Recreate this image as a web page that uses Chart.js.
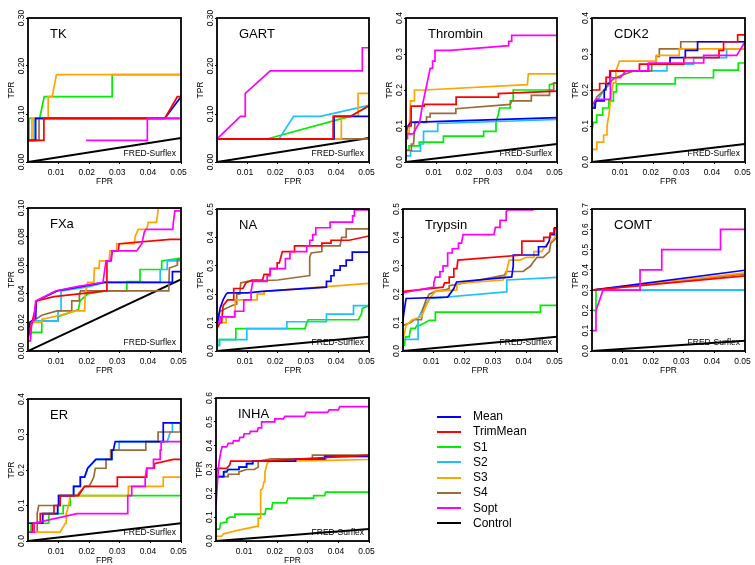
<!DOCTYPE html>
<html>
<head>
<meta charset="utf-8">
<title>FRED-Surflex ROC panels</title>
<script src="https://cdn.jsdelivr.net/npm/chart.js@4.4.1/dist/chart.umd.min.js"></script>
<style>
  body { margin: 0; background: #fff; width: 755px; height: 565px; position: relative; overflow: hidden;
         font-family: "Liberation Sans", Arial, sans-serif; }
  canvas { position: absolute; }
  .legend-line { position: absolute; width: 24px; height: 2px; }
  .legend-text { position: absolute; font-size: 12px; line-height: 14px; color: #000; }
</style>
</head>
<body>
<script>
// Series shared by every panel
const seriesNames = ['Mean', 'TrimMean', 'S1', 'S2', 'S3', 'S4', 'Sopt', 'Control'];
const seriesColors = ['#0000ff', '#ff0000', '#00ee00', '#1ec0ff', '#ffa500', '#9c6b3a', '#ff00ff', '#000000'];
const drawOrder = [2, 1, 6, 5, 3, 4, 0, 7]; // lower = drawn on top

const xTickLabels = ['0.01', '0.02', '0.03', '0.04', '0.05'];
const controlLine = [[0, 0], [0.05, 0.05]];

// TK
const tkYLabels = ['0.00', '0.10', '0.20', '0.30'];
const tkMean = [[0,.045],[.0025,.045],[.0025,.091],[.0447,.091],[.05,.136]];
const tkTrimMean = [[0,.045],[.0052,.045],[.0052,.091],[.0447,.091],[.0488,.136],[.05,.136]];
const tkS1 = [[0,.045],[.0003,.045],[.0003,.091],[.0038,.091],[.0053,.136],[.0275,.136],[.0275,.182],[.05,.182]];
const tkS2 = [[0,.045],[.002,.045],[.002,.091],[.05,.091]];
const tkS3 = [[0,.045],[.0013,.045],[.0013,.091],[.0066,.091],[.0066,.136],[.0079,.136],[.0093,.182],[.05,.182]];
const tkS4 = [[0,.045],[.0036,.045],[.0036,.091],[.05,.091]];
const tkSopt = [[.019,.045],[.039,.045],[.039,.091],[.05,.091]];

// GART
const gartYLabels = ['0.00', '0.10', '0.20', '0.30'];
const gartMean = [[0,.048],[.0385,.048],[.0385,.095],[.05,.095]];
const gartTrimMean = [[0,.048],[.0382,.048],[.0382,.095],[.0439,.095],[.05,.117]];
const gartS1 = [[0,.048],[.0164,.048],[.0437,.095],[.05,.117]];
const gartS2 = [[0,.048],[.0204,.048],[.0252,.095],[.034,.095],[.05,.118]];
const gartS3 = [[0,.048],[.0409,.048],[.0409,.095],[.0464,.095],[.0464,.143],[.05,.143]];
const gartS4 = [[0,.048],[.05,.048]];
const gartSopt = [[0,.048],[.0077,.095],[.0093,.095],[.0093,.143],[.0175,.19],[.0478,.19],[.0478,.238],[.05,.238]];

// Thrombin
const thrYLabels = ['0.0', '0.1', '0.2', '0.3', '0.4'];
const thrMean = [[0,.09],[.0015,.11],[.05,.123]];
const thrTrimMean = [[0,.07],[.0005,.1],[.0017,.1],[.0017,.155],[.006,.155],[.006,.16],[.0166,.16],[.0166,.18],[.0306,.18],[.0306,.19],[.05,.197]];
const thrS1 = [[0,.033],[.001,.033],[.001,.045],[.0044,.045],[.0044,.055],[.0124,.055],[.0124,.072],[.0257,.072],[.0257,.085],[.0295,.085],[.0298,.11],[.0305,.13],[.031,.15],[.0345,.15],[.0345,.17],[.0355,.17],[.0355,.2],[.0475,.2],[.0475,.215],[.05,.22]];
const thrS2 = [[0,.017],[.0015,.017],[.0015,.03],[.0048,.03],[.0048,.05],[.0058,.05],[.0058,.085],[.0105,.085],[.0105,.107],[.05,.118]];
const thrS3 = [[0,.08],[.001,.08],[.0015,.17],[.0028,.17],[.0028,.2],[.006,.2],[.0402,.215],[.0405,.245],[.05,.245]];
const thrS4 = [[0,.032],[.0018,.032],[.0018,.05],[.0025,.05],[.003,.11],[.0068,.11],[.0068,.125],[.008,.125],[.008,.135],[.0165,.135],[.0165,.148],[.0345,.16],[.035,.17],[.0415,.17],[.0415,.185],[.0475,.185],[.0475,.2],[.0489,.2],[.0489,.22],[.05,.22]];
const thrSopt = [[0,.065],[.0005,.065],[.0005,.078],[.0024,.078],[.0035,.096],[.0045,.11],[.0055,.16],[.0065,.2],[.007,.22],[.0075,.24],[.008,.26],[.0088,.26],[.0088,.28],[.0096,.28],[.0096,.31],[.0146,.31],[.034,.323],[.034,.335],[.035,.335],[.035,.352],[.05,.352]];

// CDK2
const cdkYLabels = ['0.0', '0.1', '0.2', '0.3', '0.4'];
const cdkMean = [[0,.15],[.001,.15],[.001,.17],[.004,.17],[.004,.2],[.0045,.2],[.0045,.218],[.006,.218],[.006,.253],[.0184,.253],[.0184,.272],[.0255,.272],[.0255,.29],[.0305,.29],[.0305,.31],[.0345,.31],[.0345,.334],[.05,.334]];
const cdkTrimMean = [[0,.2],[.0025,.2],[.0025,.218],[.0046,.218],[.0046,.235],[.0058,.235],[.0058,.253],[.0155,.253],[.0155,.272],[.03,.272],[.03,.29],[.0415,.29],[.0415,.31],[.043,.31],[.043,.334],[.0476,.334],[.0476,.353],[.05,.353]];
const cdkS1 = [[0,.09],[.0005,.11],[.0015,.11],[.0015,.13],[.0035,.13],[.0035,.15],[.0055,.15],[.0055,.17],[.007,.17],[.007,.195],[.008,.195],[.008,.217],[.0272,.217],[.0272,.234],[.0397,.234],[.0397,.255],[.0478,.255],[.0478,.275],[.05,.275]];
const cdkS2 = [[0,.15],[.004,.2],[.006,.218],[.006,.253],[.0245,.253],[.0245,.272],[.0332,.272],[.0332,.29],[.044,.29],[.044,.314],[.05,.314]];
const cdkS3 = [[0,0],[0,.035],[.0016,.035],[.0016,.055],[.0038,.055],[.0038,.075],[.0049,.075],[.0049,.1],[.0055,.13],[.0062,.18],[.0065,.2],[.007,.22],[.0078,.22],[.0078,.253],[.009,.28],[.021,.28],[.021,.296],[.0285,.296],[.0285,.314],[.05,.314]];
const cdkS4 = [[0,.15],[.001,.15],[.0015,.18],[.004,.2],[.0055,.22],[.0076,.234],[.0136,.253],[.0195,.253],[.0195,.272],[.021,.272],[.021,.293],[.022,.293],[.022,.314],[.029,.314],[.029,.334],[.05,.334]];
const cdkSopt = [[0,.158],[.0013,.174],[.006,.174],[.006,.234],[.0093,.234],[.011,.253],[.0185,.253],[.0185,.275],[.0365,.275],[.0365,.296],[.0473,.296],[.05,.334]];

// FXa
const fxaYLabels = ['0.00', '0.02', '0.04', '0.06', '0.08', '0.10'];
const fxaMean = [[0,.01],[.0005,.02],[.0025,.023],[.0027,.035],[.0095,.042],[.025,.048],[.0472,.048],[.0472,.0555],[.05,.0555]];
const fxaTrimMean = [[0,.01],[.0008,.015],[.0022,.028],[.0027,.035],[.0085,.038],[.0255,.042],[.0258,.063],[.0272,.063],[.0275,.07],[.0295,.07],[.0298,.075],[.0465,.078],[.05,.078]];
const fxaS1 = [[0,.01],[.0015,.013],[.0045,.013],[.0045,.021],[.0098,.021],[.0098,.024],[.0165,.029],[.017,.035],[.0195,.04],[.025,.042],[.0323,.042],[.0323,.0486],[.0366,.0486],[.0366,.057],[.0437,.057],[.0437,.063],[.05,.065]];
const fxaS2 = [[0,.01],[.0008,.02],[.0015,.021],[.0098,.021],[.0098,.028],[.0108,.028],[.0108,.042],[.02,.045],[.025,.048],[.0432,.048],[.0432,.057],[.0455,.057],[.0455,.063],[.05,.063]];
const fxaS3 = [[0,.005],[.0005,.015],[.0015,.02],[.0045,.02],[.0045,.022],[.0105,.025],[.0155,.028],[.0185,.028],[.0187,.04],[.0195,.048],[.0215,.048],[.0217,.058],[.0232,.058],[.0234,.063],[.0265,.063],[.0268,.07],[.0288,.07],[.029,.075],[.0348,.075],[.035,.08],[.036,.085],[.0388,.085],[.0393,.09],[.042,.09],[.0426,.1],[.05,.1]];
const fxaS4 = [[0,.01],[.001,.02],[.0045,.025],[.0095,.028],[.0143,.028],[.0143,.035],[.0168,.035],[.0168,.04],[.0172,.042],[.046,.042],[.0462,.058],[.0488,.06],[.0488,.064],[.05,.064]];
const fxaSopt = [[0,.007],[.0008,.007],[.0012,.02],[.002,.022],[.0025,.035],[.009,.042],[.016,.045],[.0245,.048],[.0255,.063],[.027,.063],[.0275,.07],[.0355,.07],[.0372,.075],[.038,.083],[.0385,.085],[.0473,.085],[.0475,.09],[.048,.098],[.05,.098]];

// NA
const naYLabels = ['0.0', '0.1', '0.2', '0.3', '0.4', '0.5'];
const naMean = [[0,.09],[.001,.15],[.002,.18],[.003,.2],[.0035,.205],[.01,.205],[.015,.21],[.036,.225],[.036,.245],[.0375,.245],[.0375,.265],[.0385,.265],[.0385,.285],[.0405,.285],[.0405,.3],[.0425,.3],[.0425,.32],[.0445,.32],[.0445,.348],[.05,.348]];
const naTrimMean = [[0,.08],[.001,.1],[.0015,.1],[.002,.16],[.0035,.18],[.0055,.18],[.0055,.22],[.0085,.22],[.0095,.24],[.0115,.25],[.015,.25],[.0155,.27],[.0175,.27],[.0175,.29],[.0198,.29],[.0198,.31],[.0205,.31],[.0215,.35],[.0255,.35],[.0255,.37],[.0345,.37],[.0345,.38],[.0375,.38],[.0375,.39],[.0435,.39],[.05,.405]];
const naS1 = [[0,.02],[.0008,.02],[.0008,.04],[.0062,.04],[.0062,.079],[.029,.079],[.0295,.1],[.03,.11],[.0465,.11],[.0475,.13],[.0478,.15],[.05,.16]];
const naS2 = [[0,.02],[.0008,.02],[.0008,.04],[.0098,.04],[.0098,.079],[.023,.079],[.023,.103],[.036,.103],[.036,.13],[.0449,.13],[.0449,.16],[.05,.16]];
const naS3 = [[0,.09],[.001,.1],[.003,.1],[.003,.12],[.006,.12],[.006,.18],[.0132,.18],[.0132,.2],[.0155,.2],[.0155,.21],[.05,.238]];
const naS4 = [[0,.1],[.001,.14],[.005,.16],[.0065,.165],[.0065,.2],[.0075,.2],[.0078,.24],[.01,.245],[.02,.25],[.03,.265],[.0303,.265],[.0305,.33],[.031,.345],[.0345,.35],[.0345,.37],[.0405,.37],[.041,.4],[.0425,.4],[.0425,.43],[.05,.43]];
const naSopt = [[0,.1],[.001,.1],[.001,.12],[.0058,.12],[.0058,.14],[.0088,.14],[.0088,.18],[.0112,.18],[.0112,.21],[.0118,.245],[.0165,.245],[.0165,.265],[.0175,.265],[.0175,.29],[.0225,.29],[.0225,.325],[.024,.325],[.024,.35],[.0295,.35],[.0295,.37],[.0305,.37],[.0305,.39],[.0315,.39],[.0315,.41],[.0325,.41],[.0325,.434],[.0372,.434],[.0372,.454],[.0446,.454],[.0446,.476],[.0452,.476],[.0452,.497],[.05,.497]];

// Trypsin
const trpYLabels = ['0.0', '0.1', '0.2', '0.3', '0.4', '0.5'];
const trpMean = [[0,.11],[.0005,.15],[.001,.185],[.0145,.19],[.0165,.22],[.0174,.243],[.0353,.261],[.0358,.3],[.0358,.338],[.044,.338],[.044,.367],[.0465,.367],[.0475,.39],[.0478,.41],[.0492,.41],[.0492,.434],[.05,.434]];
const trpTrimMean = [[0,.2],[.0005,.21],[.013,.225],[.0135,.24],[.015,.24],[.015,.26],[.0165,.26],[.0165,.29],[.0175,.29],[.0178,.32],[.0386,.338],[.0386,.387],[.0457,.387],[.0457,.4],[.0478,.4],[.0478,.415],[.049,.415],[.049,.43],[.05,.43]];
const trpS1 = [[0,.02],[.0005,.02],[.0008,.05],[.002,.05],[.0025,.08],[.004,.08],[.0045,.09],[.0055,.09],[.0085,.108],[.0105,.108],[.0105,.137],[.0446,.137],[.0446,.161],[.05,.161]];
const trpS2 = [[0,.041],[.0049,.041],[.0049,.114],[.0065,.15],[.0087,.185],[.0335,.208],[.0337,.25],[.05,.259]];
const trpS3 = [[0,.04],[.001,.09],[.003,.11],[.006,.12],[.0075,.16],[.009,.19],[.0105,.21],[.0175,.215],[.0175,.235],[.0195,.24],[.0325,.25],[.0335,.27],[.034,.3],[.0345,.32],[.038,.32],[.04,.33],[.0425,.33],[.0425,.35],[.045,.35],[.0465,.375],[.0485,.39],[.05,.41]];
const trpS4 = [[0,.09],[.0025,.1],[.0035,.11],[.006,.11],[.0065,.15],[.0075,.18],[.0085,.2],[.0105,.21],[.0135,.215],[.015,.22],[.015,.23],[.02,.24],[.033,.267],[.0335,.28],[.039,.28],[.0415,.3],[.0422,.312],[.0435,.33],[.0455,.33],[.0475,.35],[.048,.38],[.05,.4]];
const trpSopt = [[0,.205],[.01,.225],[.01,.24],[.0105,.26],[.012,.26],[.012,.28],[.013,.28],[.013,.3],[.0145,.3],[.0145,.345],[.016,.345],[.016,.36],[.018,.36],[.018,.38],[.019,.38],[.0195,.41],[.0295,.41],[.03,.435],[.0315,.435],[.0315,.46],[.0335,.46],[.0335,.49],[.034,.497],[.0424,.497]];

// COMT
const comtYLabels = ['0.0', '0.1', '0.2', '0.3', '0.4', '0.5', '0.6', '0.7'];
const comtMean = [[0,.3],[.05,.398]];
const comtTrimMean = [[0,.3],[.05,.37]];
const comtS1 = [[0,.2],[.0013,.2],[.0013,.3],[.05,.3]];
const comtS2 = [[0,.3],[.05,.3]];
const comtS3 = [[0,.3],[.05,.385]];
const comtS4 = [[0,.3],[.05,.38]];
const comtSopt = [[0,.1],[.0013,.1],[.0013,.2],[.0036,.3],[.0157,.3],[.0157,.4],[.0228,.4],[.0228,.5],[.042,.5],[.042,.6],[.05,.6]];

// ER
const erYLabels = ['0.0', '0.1', '0.2', '0.3', '0.4'];
const erMean = [[0,.05],[.0048,.05],[.0048,.077],[.0097,.077],[.0097,.1],[.01,.1],[.01,.128],[.0149,.128],[.0149,.154],[.0171,.154],[.0171,.18],[.0185,.18],[.0195,.205],[.0222,.23],[.0274,.23],[.0274,.256],[.0279,.256],[.0285,.28],[.0442,.28],[.0442,.333],[.05,.333]];
const erTrimMean = [[0,.025],[.0015,.025],[.0015,.05],[.004,.05],[.004,.077],[.0085,.077],[.0085,.1],[.0105,.1],[.0105,.128],[.0165,.128],[.0185,.154],[.0292,.154],[.0292,.18],[.0388,.18],[.0388,.205],[.0413,.205],[.0413,.218],[.0475,.23],[.05,.23]];
const erS1 = [[0,.025],[.001,.025],[.001,.05],[.0068,.05],[.0068,.077],[.0115,.077],[.0115,.1],[.0138,.1],[.0138,.128],[.05,.128]];
const erS2 = [[0,.05],[.0048,.05],[.0048,.077],[.0097,.077],[.0097,.1],[.01,.1],[.01,.128],[.0149,.128],[.0149,.154],[.0171,.154],[.0171,.18],[.0185,.18],[.0195,.205],[.0222,.23],[.0274,.23],[.0274,.256],[.0298,.256],[.0298,.28],[.0455,.28],[.0465,.307],[.0472,.307],[.0472,.333],[.05,.333]];
const erS3 = [[0,.025],[.0105,.025],[.0122,.05],[.0125,.05],[.0125,.077],[.0133,.1],[.0138,.128],[.0328,.128],[.0328,.154],[.0442,.154],[.0442,.18],[.05,.18]];
const erS4 = [[0,.025],[.003,.025],[.003,.077],[.0035,.1],[.0105,.1],[.0105,.128],[.016,.128],[.0185,.154],[.02,.154],[.0215,.18],[.022,.205],[.0255,.205],[.0255,.23],[.027,.23],[.027,.256],[.0385,.256],[.0385,.28],[.0425,.28],[.0425,.307],[.0498,.307],[.0498,.333],[.05,.333]];
const erSopt = [[0,.025],[.002,.025],[.002,.05],[.016,.077],[.0326,.077],[.0326,.128],[.0339,.128],[.0339,.154],[.0383,.154],[.0383,.18],[.0388,.205],[.041,.205],[.041,.23],[.0432,.23],[.0432,.256],[.0435,.256],[.0435,.28],[.05,.28]];

// INHA
const inhaYLabels = ['0.0', '0.1', '0.2', '0.3', '0.4', '0.5', '0.6'];
const inhaMean = [[0,.27],[.0025,.27],[.0025,.29],[.0035,.29],[.004,.3],[.0075,.3],[.0075,.31],[.01,.31],[.01,.325],[.012,.325],[.012,.335],[.026,.335],[.026,.345],[.0355,.345],[.0355,.355],[.05,.355]];
const inhaTrimMean = [[0,.276],[.0004,.305],[.0035,.305],[.0045,.32],[.0048,.335],[.015,.335],[.05,.36]];
const inhaS1 = [[0,.05],[.0011,.05],[.0015,.075],[.0035,.08],[.0035,.093],[.0045,.1],[.0062,.1],[.0062,.113],[.016,.113],[.0163,.135],[.0182,.135],[.0185,.16],[.023,.16],[.0235,.18],[.0317,.18],[.0319,.19],[.0355,.19],[.0358,.205],[.0499,.205],[.05,.22]];
const inhaS2 = [[0,.27],[.0025,.27],[.0025,.29],[.004,.3],[.0075,.3],[.0075,.31],[.01,.31],[.01,.325],[.012,.325],[.012,.335],[.026,.335],[.026,.345],[.036,.345],[.036,.355],[.05,.355]];
const inhaS3 = [[0,.02],[.0018,.02],[.0025,.03],[.0078,.047],[.0133,.061],[.0138,.061],[.0138,.096],[.0146,.096],[.0146,.214],[.0152,.22],[.0157,.249],[.016,.29],[.0167,.325],[.0174,.335],[.033,.337],[.05,.342]];
const inhaS4 = [[0,.27],[.004,.27],[.004,.28],[.0075,.28],[.0075,.29],[.01,.3],[.0125,.3],[.0138,.31],[.0138,.335],[.018,.345],[.0315,.345],[.0315,.36],[.05,.36]];
const inhaSopt = [[0,.15],[.0005,.25],[.0008,.3],[.001,.33],[.0015,.37],[.002,.395],[.0035,.395],[.004,.41],[.0055,.41],[.0057,.42],[.0075,.42],[.0078,.435],[.009,.435],[.0092,.45],[.011,.45],[.0112,.46],[.0135,.46],[.0138,.475],[.0148,.475],[.0149,.5],[.019,.5],[.0192,.512],[.022,.512],[.0225,.523],[.029,.523],[.0295,.54],[.0365,.54],[.037,.55],[.04,.55],[.0404,.564],[.05,.564]];

// Panel layout: plot box [left, top, right, bottom] in page pixels
const panels = [
  { name: 'TK',       box: [28, 18, 181, 162],   yLabels: tkYLabels,   series: [tkMean, tkTrimMean, tkS1, tkS2, tkS3, tkS4, tkSopt, controlLine] },
  { name: 'GART',     box: [217, 18, 369, 162],  yLabels: gartYLabels, series: [gartMean, gartTrimMean, gartS1, gartS2, gartS3, gartS4, gartSopt, controlLine] },
  { name: 'Thrombin', box: [406, 18, 557, 162],  yLabels: thrYLabels,  series: [thrMean, thrTrimMean, thrS1, thrS2, thrS3, thrS4, thrSopt, controlLine] },
  { name: 'CDK2',     box: [592, 18, 745, 162],  yLabels: cdkYLabels,  series: [cdkMean, cdkTrimMean, cdkS1, cdkS2, cdkS3, cdkS4, cdkSopt, controlLine] },
  { name: 'FXa',      box: [28, 208, 181, 351],  yLabels: fxaYLabels,  series: [fxaMean, fxaTrimMean, fxaS1, fxaS2, fxaS3, fxaS4, fxaSopt, controlLine] },
  { name: 'NA',       box: [217, 209, 369, 351], yLabels: naYLabels,   series: [naMean, naTrimMean, naS1, naS2, naS3, naS4, naSopt, controlLine] },
  { name: 'Trypsin',  box: [403, 209, 557, 351], yLabels: trpYLabels,  series: [trpMean, trpTrimMean, trpS1, trpS2, trpS3, trpS4, trpSopt, controlLine] },
  { name: 'COMT',     box: [592, 209, 745, 351], yLabels: comtYLabels, series: [comtMean, comtTrimMean, comtS1, comtS2, comtS3, comtS4, comtSopt, controlLine] },
  { name: 'ER',       box: [28, 399, 181, 541],  yLabels: erYLabels,   series: [erMean, erTrimMean, erS1, erS2, erS3, erS4, erSopt, controlLine] },
  { name: 'INHA',     box: [216, 398, 369, 541], yLabels: inhaYLabels, series: [inhaMean, inhaTrimMean, inhaS1, inhaS2, inhaS3, inhaS4, inhaSopt, controlLine] },
];

const FONT = '"Liberation Sans", Arial, sans-serif';
const PAD_LEFT = 30, PAD_TOP = 20, PAD_RIGHT = 14, PAD_BOTTOM = 28;

// Frame, panel name, method tag and rotated y tick labels
const panelDecor = {
  id: 'panelDecor',
  afterDraw(chart, args, opts) {
    const { ctx, chartArea: a } = chart;
    const y = chart.scales.y;
    ctx.save();
    ctx.fillStyle = '#000';

    ctx.font = '8.5px ' + FONT;
    ctx.textAlign = 'center';
    ctx.textBaseline = 'middle';
    opts.yLabels.forEach(lbl => {
      const py = y.getPixelForValue(Number(lbl));
      ctx.save();
      ctx.translate(a.left - 6, py);
      ctx.rotate(-Math.PI / 2);
      ctx.fillText(lbl, 0, 0);
      ctx.restore();
    });

    ctx.lineWidth = 1.8;
    ctx.strokeStyle = '#000';
    ctx.strokeRect(a.left, a.top, a.right - a.left, a.bottom - a.top);

    ctx.textBaseline = 'alphabetic';
    ctx.textAlign = 'left';
    ctx.font = '13px ' + FONT;
    ctx.fillText(opts.title, a.left + 22, a.top + 20);

    ctx.textAlign = 'right';
    ctx.font = '8.5px ' + FONT;
    ctx.fillText('FRED-Surflex', a.right - 5, a.bottom - 6);
    ctx.restore();
  }
};

function buildPanel(p) {
  const [l, t, r, b] = p.box;
  const canvas = document.createElement('canvas');
  canvas.width = (r - l) + PAD_LEFT + PAD_RIGHT;
  canvas.height = (b - t) + PAD_TOP + PAD_BOTTOM;
  canvas.style.left = (l - PAD_LEFT) + 'px';
  canvas.style.top = (t - PAD_TOP) + 'px';
  document.body.appendChild(canvas);

  const yValues = p.yLabels.map(Number);

  new Chart(canvas, {
    type: 'line',
    data: {
      datasets: p.series.map((pts, i) => ({
        label: seriesNames[i],
        data: pts,
        borderColor: seriesColors[i],
        borderWidth: i === 7 ? 2 : 1.7,
        pointRadius: 0,
        tension: 0,
        fill: false,
        order: drawOrder[i],
      })),
    },
    options: {
      responsive: false,
      animation: false,
      events: [],
      layout: { padding: { left: 0, top: PAD_TOP, right: PAD_RIGHT, bottom: 0 } },
      plugins: {
        legend: { display: false },
        tooltip: { enabled: false },
        panelDecor: { title: p.name, yLabels: p.yLabels },
      },
      scales: {
        x: {
          type: 'linear',
          min: 0,
          max: 0.05,
          afterBuildTicks: s => { s.ticks = xTickLabels.map(v => ({ value: Number(v) })); },
          afterFit: s => { s.height = PAD_BOTTOM; },
          ticks: {
            autoSkip: false, maxRotation: 0, minRotation: 0, padding: 4, labelOffset: -2.5,
            color: '#000', font: { family: FONT, size: 8.5 },
            callback: (v, i) => xTickLabels[i],
          },
          grid: { drawOnChartArea: false, drawTicks: true, tickLength: 2, color: '#000' },
          border: { display: false },
          title: { display: true, text: 'FPR', color: '#000', font: { family: FONT, size: 8.5 }, padding: { top: 0, bottom: 3.5 } },
        },
        y: {
          type: 'linear',
          min: 0,
          max: yValues[yValues.length - 1],
          afterBuildTicks: s => { s.ticks = yValues.map(v => ({ value: v })); },
          afterFit: s => { s.width = PAD_LEFT; },
          ticks: { display: false },
          grid: { drawOnChartArea: false, drawTicks: true, tickLength: 2, color: '#000' },
          border: { display: false },
          title: { display: true, text: 'TPR', color: '#000', font: { family: FONT, size: 8.5 }, padding: { top: 9, bottom: 0 } },
        },
      },
    },
    plugins: [panelDecor],
  });
}

panels.forEach(buildPanel);

// Legend
seriesNames.forEach((name, i) => {
  const cy = 416.7 + i * 15.23;
  const line = document.createElement('div');
  line.className = 'legend-line';
  line.style.left = '437px';
  line.style.top = (cy - 1) + 'px';
  line.style.background = seriesColors[i];
  document.body.appendChild(line);

  const text = document.createElement('div');
  text.className = 'legend-text';
  text.style.left = '473px';
  text.style.top = (cy - 7.5) + 'px';
  text.textContent = name;
  document.body.appendChild(text);
});
</script>
</body>
</html>
